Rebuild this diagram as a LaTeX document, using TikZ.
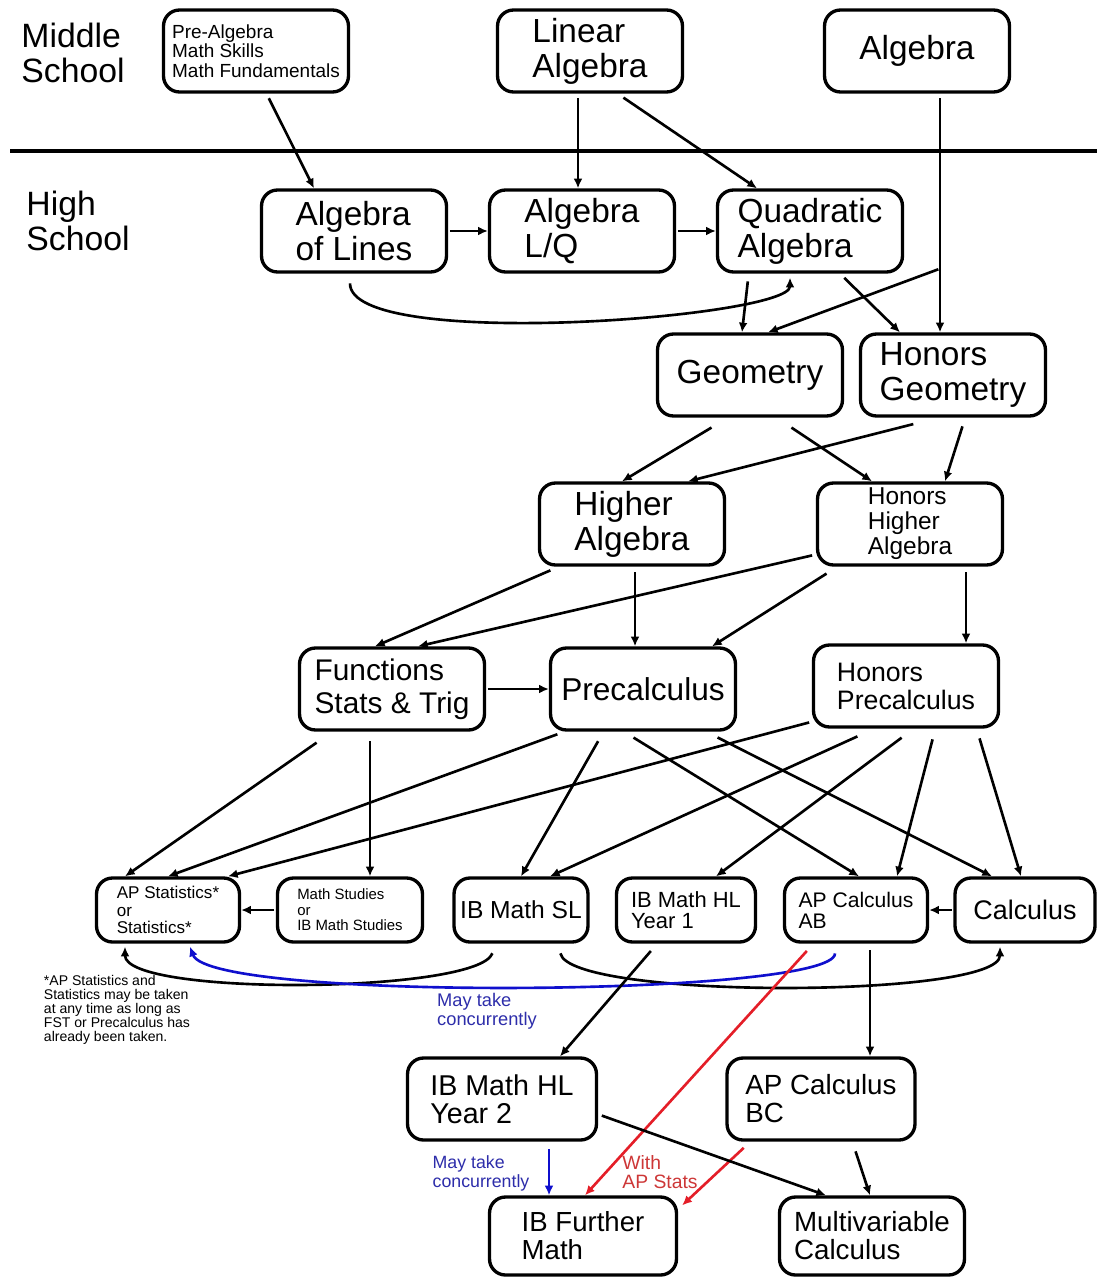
\documentclass[tikz,border=0pt]{standalone}
\usepackage{fontspec}
\setmainfont{Liberation Sans}
\usetikzlibrary{arrows.meta}
\usetikzlibrary{calc}

\definecolor{concurline}{RGB}{15,15,205}
\definecolor{concurtext}{RGB}{45,45,170}
\definecolor{statsline}{RGB}{228,30,40}
\definecolor{statstext}{RGB}{205,55,55}

\tikzset{
  course/.style={draw, line width=1.9pt, rounded corners=0.32cm, align=left, inner sep=0pt,
    minimum width=3.7cm, minimum height=1.64cm, font=\fontsize{19}{20}\selectfont},
  rowbox/.style={minimum width=2.86cm, minimum height=1.28cm},
  level/.style={align=left, inner sep=0pt, font=\fontsize{19.2}{20}\selectfont},
  note/.style={align=left, inner sep=0pt, font=\fontsize{10.4}{10.8}\selectfont},
  link/.style={line width=1.5pt, -{Latex[length=5.5pt,width=5pt]}, shorten <=1pt},
  concurrent/.style={link, draw=concurline},
  withstats/.style={link, draw=statsline}
}

\begin{document}
\begin{tikzpicture}[x=0.02cm, y=-0.02cm]
  \useasboundingbox (0,0) rectangle (1097,1277);

  % Define the school levels
  \node[level] (middle) at (73,53) {Middle\\School};
  \node[level] (high) at (78,221) {High\\School};
  \draw[line width=1.8pt] (10,151) -- (1097,151);

  % Define the courses
  \node[course, font=\fontsize{10.8}{11}\selectfont] (prealg) at (256,51) {Pre-Algebra\\Math Skills\\Math Fundamentals};
  \node[course] (linalg) at (590,51) {Linear\\Algebra};
  \node[course] (alg) at (917,51) {Algebra};
  \node[course] (lines) at (354,231) {Algebra\\of Lines};
  \node[course] (lq) at (582,231) {Algebra\\L/Q};
  \node[course] (quad) at (810,231) {Quadratic\\Algebra};
  \node[course] (geo) at (750,375) {Geometry};
  \node[course] (hgeo) at (953,375) {Honors\\Geometry};
  \node[course] (higher) at (632,524) {Higher\\Algebra};
  \node[course, font=\fontsize{13.9}{14.3}\selectfont] (hhigher) at (910,524) {Honors\\Higher\\Algebra};
  \node[course, font=\fontsize{17}{19}\selectfont] (fst) at (392,689) {Functions\\Stats \& Trig};
  \node[course, font=\fontsize{18}{20}\selectfont] (precalc) at (643,689) {Precalculus};
  \node[course, font=\fontsize{15.2}{16}\selectfont] (hprecalc) at (906,686) {Honors\\Precalculus};

  \node[course, rowbox, font=\fontsize{9.7}{9.9}\selectfont] (apstat) at (168,910) {AP Statistics*\\or\\Statistics*};
  \node[course, rowbox, minimum width=2.9cm, font=\fontsize{8.5}{8.9}\selectfont] (studies) at (350,910) {Math Studies\\or\\IB Math Studies};
  \node[course, rowbox, minimum width=2.68cm, font=\fontsize{14}{16}\selectfont] (ibsl) at (521,910) {IB Math SL};
  \node[course, rowbox, minimum width=2.78cm, font=\fontsize{12.5}{12}\selectfont] (ibhl1) at (686,910) {IB Math HL\\Year 1};
  \node[course, rowbox, font=\fontsize{12}{12}\selectfont] (apab) at (856,910) {AP Calculus\\AB};
  \node[course, rowbox, minimum width=2.8cm, font=\fontsize{15.3}{16}\selectfont] (calc) at (1025,910) {Calculus};

  \node[course, minimum width=3.78cm, font=\fontsize{16.3}{16}\selectfont] (ibhl2) at (502,1099) {IB Math HL\\Year 2};
  \node[course, minimum width=3.76cm, font=\fontsize{15.8}{16}\selectfont] (apbc) at (821,1099) {AP Calculus\\BC};
  \node[course, minimum width=3.74cm, minimum height=1.56cm, font=\fontsize{15.7}{16}\selectfont] (further) at (583,1236) {IB Further\\Math};
  \node[course, minimum height=1.56cm, font=\fontsize{15.8}{16}\selectfont] (multi) at (872,1236) {Multivariable\\Calculus};

  % Notes
  \node[note, font=\fontsize{8}{8}\selectfont] (asterisk) at (117,1010) {*AP Statistics and\\Statistics may be taken\\at any time as long as\\FST or Precalculus has\\already been taken.};
  \node[note, text=concurtext] (maytake) at (487,1011) {May take\\concurrently};
  \node[note, text=concurtext, font=\fontsize{10.1}{10.8}\selectfont] (maytakehl) at (481,1173) {May take\\concurrently};
  \node[note, text=statstext, font=\fontsize{11}{10.8}\selectfont] (withap) at (660,1172) {With\\AP Stats};

  % Draw the lines
  \draw[link] ($(prealg.south)+(12,3)$) -- ($(lines.north)+(-40,0)$);
  \draw[link] ($(linalg.south)+(-12,3)$) -- ($(lq.north)+(-4,0)$);
  \draw[link] ($(linalg.south)+(32,3)$) -- ($(quad.north)+(-53,0)$);
  \draw[link] ($(alg.south)+(23,3)$) -- ($(hgeo.north)+(-13,0)$);
  \coordinate (fork) at ($(alg.south)+(23,175)$);
  \draw[link] (fork) -- ($(geo.north)+(18,0)$);
  \draw[link] (lines.east) -- (lq.west);
  \draw[link] (lq.east) -- (quad.west);
  \draw[link] ($(lines.south)+(-4,8)$) .. controls +(0,70) and +(0,40) .. ($(quad.south)+(-20,4)$);
  \draw[link] ($(quad.south)+(-62,6)$) -- ($(geo.north)+(-8,0)$);
  \draw[link] ($(quad.south)+(33,3)$) -- ($(hgeo.north)+(-53,0)$);

  \draw[link] ($(geo.south)+(-37,9)$) -- ($(higher.north)+(-10,0)$);
  \draw[link] ($(geo.south)+(40,9)$) -- ($(hhigher.north)+(-38,0)$);
  \draw[link] ($(hgeo.south)+(-38,6)$) -- ($(higher.north)+(56,0)$);
  \draw[link] ($(hgeo.south)+(10,7)$) -- ($(hhigher.north)+(35,0)$);

  \draw[link] ($(higher.south)+(-80,3)$) -- ($(fst.north)+(-17,0)$);
  \draw[link] ($(higher.south)+(3,4)$) -- ($(precalc.north)+(-8,0)$);
  \draw[link] ($(hhigher.west)+(-2,31)$) -- ($(fst.north)+(26,0)$);
  \draw[link] ($(hhigher.south)+(-82,6)$) -- ($(precalc.north)+(69,0)$);
  \draw[link] ($(hhigher.south)+(56,4)$) -- ($(hprecalc.north)+(60,0)$);
  \draw[link] (fst.east) -- (precalc.west);

  \draw[link] ($(fst.south)+(-74,10)$) -- ($(apstat.north)+(-43,0)$);
  \draw[link] ($(fst.south)+(-22,8)$) -- ($(studies.north)+(20,0)$);
  \draw[link] ($(precalc.south)+(-84,2)$) -- (apstat.north);
  \draw[link] ($(hprecalc.west)+(-1,36)$) -- ($(apstat.north)+(60,0)$);
  \draw[link] ($(precalc.south)+(-44,8)$) -- (ibsl.north);
  \draw[link] ($(hprecalc.south)+(-47,7)$) -- ($(ibsl.north)+(29,0)$);
  \draw[link] ($(hprecalc.south)+(-3,8)$) -- ($(ibhl1.north)+(30,0)$);
  \draw[link] ($(precalc.south)+(-11,5)$) -- ($(apab.north)+(3,0)$);
  \draw[link] ($(hprecalc.south)+(27,9)$) -- ($(apab.north)+(41,0)$);
  \draw[link] ($(precalc.south)+(73,5)$) -- ($(calc.north)+(-33,0)$);
  \draw[link] ($(hprecalc.south)+(73,8)$) -- ($(calc.north)+(-4,0)$);

  \draw[link] (studies.west) -- (apstat.east);
  \draw[link] (calc.west) -- (apab.east);
  \draw[link] ($(ibsl.south)+(-28,8)$) .. controls +(-15,42) and +(0,50) .. ($(apstat.south)+(-43,3)$);
  \draw[link] ($(ibsl.south)+(39,8)$) .. controls +(10,48) and +(0,52) .. ($(calc.south)+(-25,3)$);
  \draw[concurrent] ($(apab.south)+(-21,8)$) .. controls +(0,45) and +(20,55) .. ($(apstat.south)+(22,3)$);

  \draw[link] ($(ibhl1.south)+(-34,6)$) -- ($(ibhl2.north)+(58,0)$);
  \draw[link] ($(apab.south)+(14,5)$) -- ($(apbc.north)+(49,0)$);
  \draw[withstats] ($(apab.south)+(-48,6)$) -- ($(further.north)+(2,0)$);
  \draw[withstats] ($(apbc.south)+(-76,5)$) -- ($(further.north east)+(4,10)$);
  \draw[link] ($(apbc.south)+(34,8)$) -- ($(multi.north)+(-2,0)$);
  \draw[link] ($(ibhl2.east)+(2,16)$) -- ($(multi.north)+(-46,0)$);
  \draw[concurrent] ($(ibhl2.south)+(47,6)$) -- ($(further.north)+(-34,0)$);
\end{tikzpicture}
\end{document}
